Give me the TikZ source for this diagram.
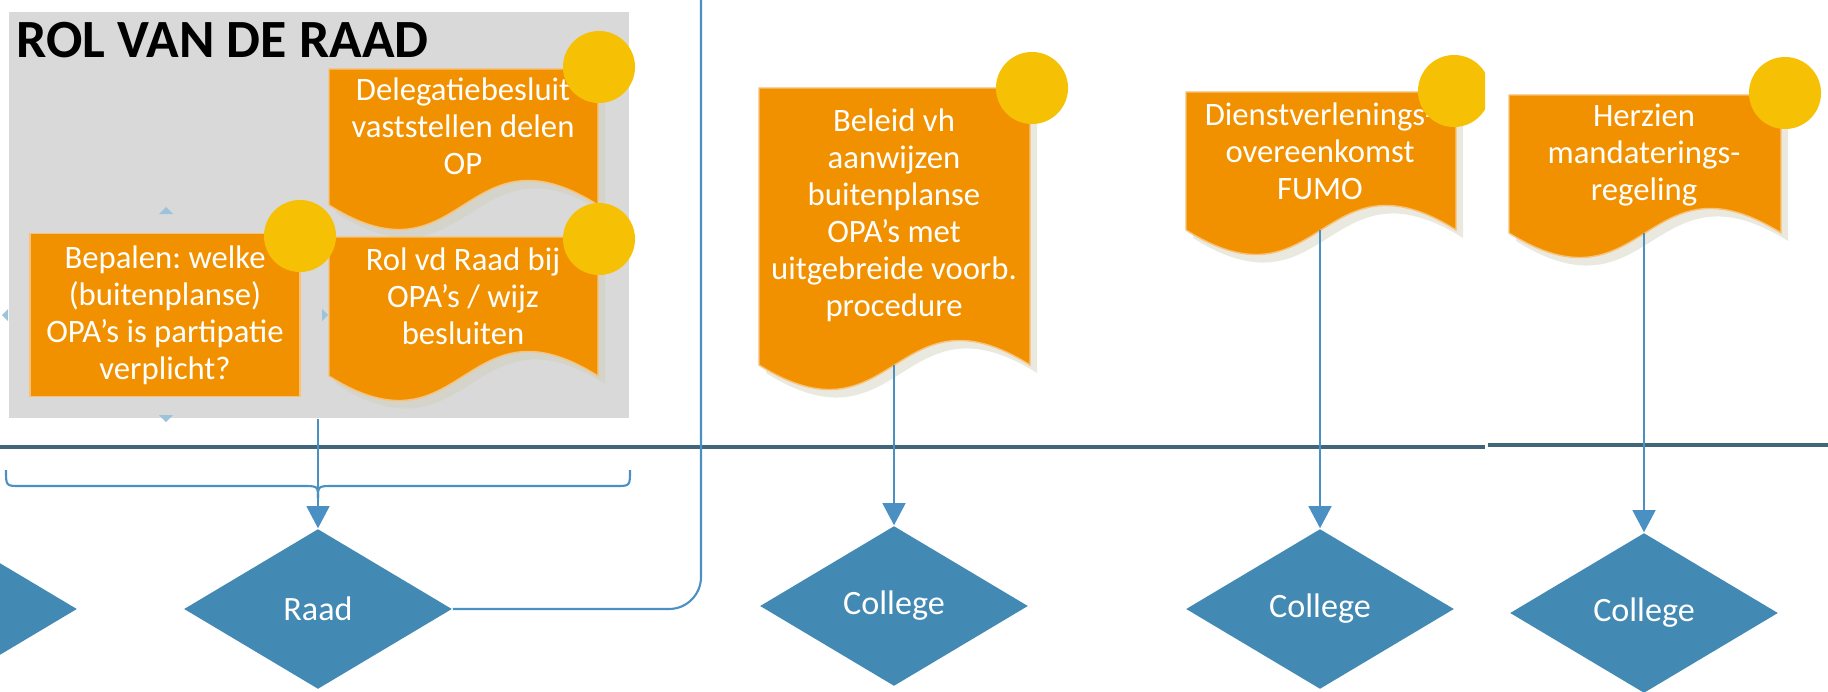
\documentclass[tikz,border=0pt]{standalone}
\usepackage{fontspec}
\setmainfont{Carlito}
\usepackage{tikz}
\usetikzlibrary{positioning, arrows.meta, shapes.geometric}
\definecolor{graybg}{HTML}{D9D9D9}
\definecolor{orng}{HTML}{F29100}
\definecolor{orngedge}{HTML}{F8C27A}
\definecolor{gold}{HTML}{F6C104}
\definecolor{diablue}{HTML}{4289B3}
\definecolor{connblue}{HTML}{4A90C2}
\definecolor{slate}{HTML}{41667A}
\definecolor{trib}{HTML}{9CC3DA}
\definecolor{shadowc}{HTML}{CFCFB8}

\begin{document}
\frenchspacing
\begin{tikzpicture}[x=0.01cm,y=-0.01cm,
  conn/.style={draw=connblue, line width=0.6pt},
  arr/.style={conn, -{Triangle[width=6.5pt,length=6.3pt]}},
  ruler/.style={draw=slate, line width=1pt},
  ruit/.style={diamond, fill=diablue, text=white, inner sep=0pt, minimum width=2.68cm, minimum height=1.6cm, font=\fontsize{9.7}{11}\selectfont},
  tekst/.style={text=white, align=center, font=\fontsize{9.3}{10.5}\selectfont},
  stip/.style={fill=gold},
  schaduw/.style={fill=shadowc, fill opacity=.45},
  vak/.style={fill=orng, draw=orngedge, line width=0.4pt},
  pijltje/.style={fill=trib}]
\useasboundingbox (0,0) rectangle (1828,691);
\clip (0,0) rectangle (1828,691);

% grey group
\node[fill=graybg, minimum width=6.2cm, minimum height=4.06cm, inner sep=0pt] (groep) at (319,215) {};
\node[anchor=base west, inner sep=0pt, font=\bfseries\fontsize{15.3}{17}\selectfont] (titel) at (16,58) {ROL VAN DE RAAD};

% small handles round the first box
\fill[pijltje] (159,214) -- (166,207) -- (173,214) -- cycle;
\fill[pijltje] (159,415) -- (166,422) -- (173,415) -- cycle;
\fill[pijltje] (8,309) -- (2,315) -- (8,321) -- cycle;
\fill[pijltje] (322,309) -- (328,315) -- (322,321) -- cycle;

% document shapes
\foreach \l/\t/\r/\b in {329/69/598/205, 329/237/598/376, 759/88/1030/365, 1186/92/1456/230, 1509/95/1781/233}{
  \fill[schaduw, shift={(7,8)}] (\l,\t) -- (\r,\t) -- (\r,\b) .. controls ({(\l+\r)/2},{\b-85}) and ({(\l+\r)/2},{\b+85}) .. (\l,\b) -- cycle;
  \path[vak] (\l,\t) -- (\r,\t) -- (\r,\b) .. controls ({(\l+\r)/2},{\b-85}) and ({(\l+\r)/2},{\b+85}) .. (\l,\b) -- cycle;
}
\node[vak, minimum width=2.7cm, minimum height=1.63cm, tekst] (bepalen) at (165,315) {Bepalen: welke\\(buitenplanse)\\OPA’s is partipatie\\verplicht?};

\node[tekst] (dele) at (463,126) {Delegatiebesluit\\vaststellen delen\\OP};
\node[tekst] (rol) at (463,296) {Rol vd Raad bij\\OPA’s / wijz\\besluiten};
\node[tekst] (beleid) at (894,215) {Beleid vh\\aanwijzen\\buitenplanse\\OPA’s met\\uitgebreide voorb.\\procedure};
\node[tekst] (dienst) at (1320,151) {Dienstverlenings-\\overeenkomst\\FUMO};
\node[tekst] (herzien) at (1644,155) {Herzien\\mandaterings-\\regeling};

% yellow dots
\foreach \p in {(599,67),(300,236),(599,239),(1032,88),(1785,93)}{
  \fill[stip] \p circle (0.36cm);
}
\begin{scope}
\clip (1400,40) rectangle (1485,140);
\fill[stip] (1454,91) circle (0.36cm);
\end{scope}

% time line
\coordinate (t0) at (0,447);
\coordinate (t1) at (1485,447);
\coordinate (t2) at (1488,445);
\coordinate (t3) at (1828,445);
\draw[ruler] (t0) -- (t1);
\draw[ruler] (t2) -- (t3);

% decisions
\node[ruit] (links) at (-57,609) {};
\node[ruit] (raad) at (318,609) {Raad};
\node[ruit] (col1) at (894,606) {College};
\node[ruit] (col2) at (1320,609) {College};
\node[ruit] (col3) at (1644,613) {College};

% connectors
\coordinate (boven) at (701,0);
\coordinate (beleidend) at (894,365);
\coordinate (dienstend) at (1320,230);
\coordinate (herzienend) at (1644,233);
\draw[arr] (raad.north |- groep.south) -- (raad.north);
\draw[conn] (6,470) .. controls (6,486) .. (20,486) -- (302,486) .. controls (318,486) .. (318,498);
\draw[conn] (630,470) .. controls (630,486) .. (616,486) -- (334,486) .. controls (318,486) .. (318,498);
\draw[conn, rounded corners=0.32cm] (raad.east) -| (boven);
\draw[arr] (beleidend) -- (col1.north);
\draw[arr] (dienstend) -- (col2.north);
\draw[arr] (herzienend) -- (col3.north);
\end{tikzpicture}
\end{document}
